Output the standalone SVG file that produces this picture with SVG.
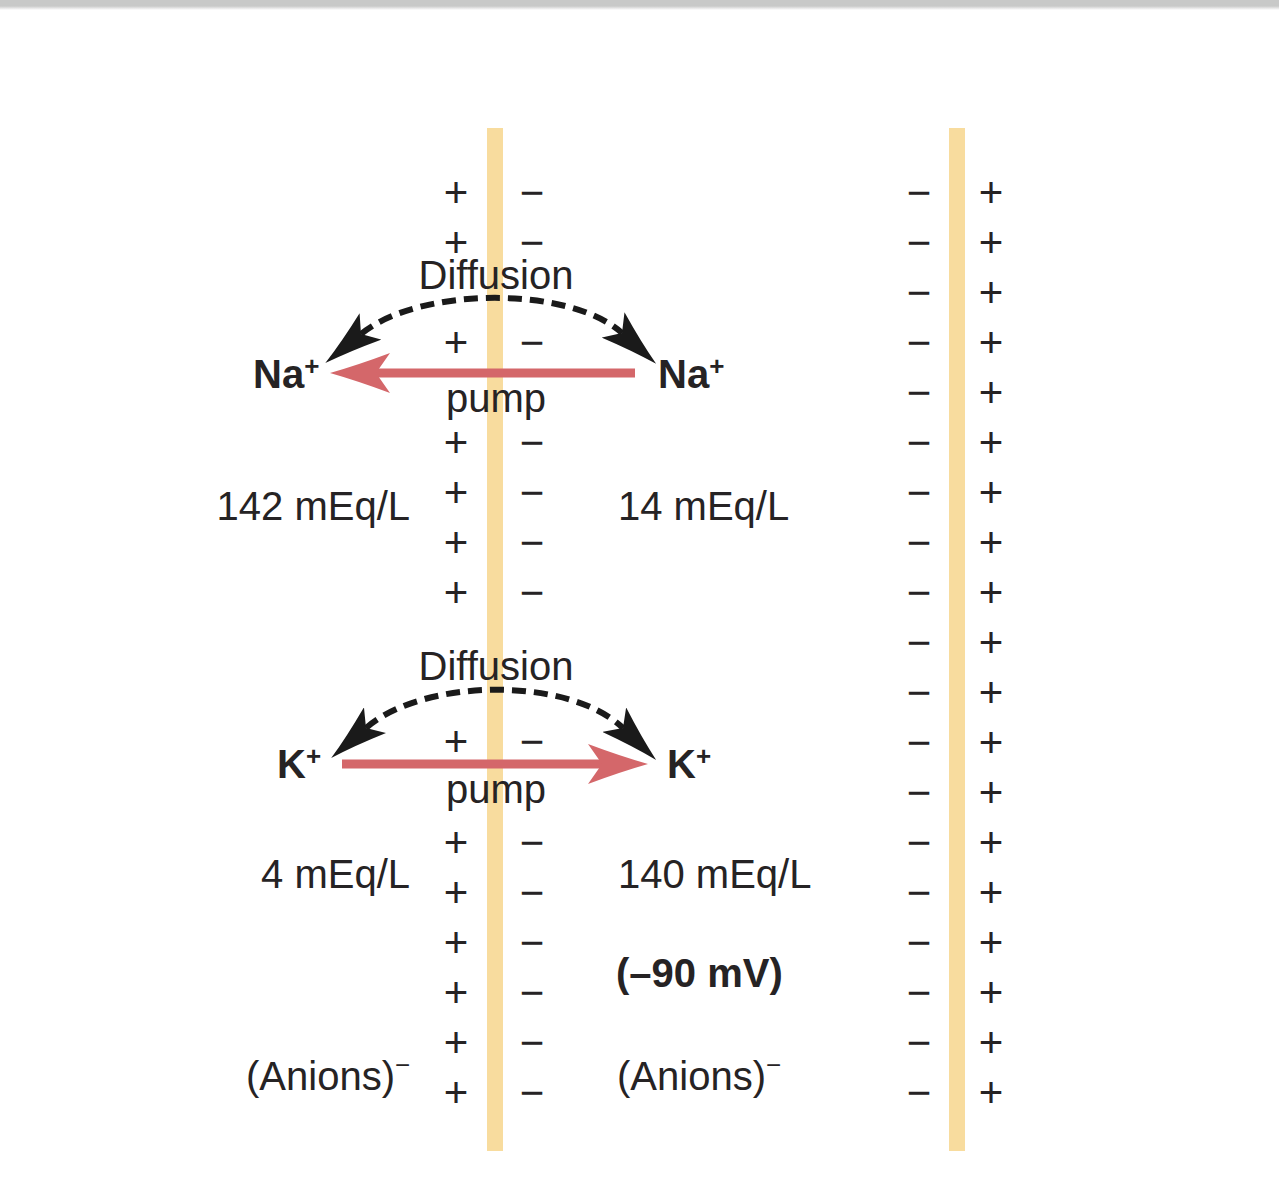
<svg xmlns="http://www.w3.org/2000/svg" width="1279" height="1200" viewBox="0 0 1279 1200">
<style>
  .lbl{font-family:"Liberation Sans",Arial,sans-serif;font-size:40px;fill:#262324}
  .b{font-weight:bold}
  .sup{font-size:26px}
  .pm{font-family:"Liberation Sans",Arial,sans-serif;font-size:42px;fill:#262324;text-anchor:middle}
  .mem{fill:#f8dc9e}
  .diff{fill:none;stroke:#1a1a1a;stroke-width:6;stroke-dasharray:14 8}
  .pump{fill:none;stroke:#d4676a;stroke-width:9}
</style>
<defs>
  <linearGradient id="topfade" x1="0" y1="0" x2="0" y2="1">
    <stop offset="0" stop-color="#c8c9c8"/>
    <stop offset="1" stop-color="#ffffff"/>
  </linearGradient>
  <marker id="blk" markerUnits="userSpaceOnUse" viewBox="-12 -17 58 34" markerWidth="58" markerHeight="34" refX="0" refY="0" orient="auto-start-reverse">
    <path d="M46,0 Q20,-6 -12,-17 L0,0 L-12,17 Q20,6 46,0 Z" fill="#1a1a1a"/>
  </marker>
  <marker id="red" markerUnits="userSpaceOnUse" viewBox="-14 -20 60 40" markerWidth="60" markerHeight="40" refX="0" refY="0" orient="auto">
    <path d="M46,0 Q18,-8 -14,-20 L0,0 L-14,20 Q18,8 46,0 Z" fill="#d4676a"/>
  </marker>
</defs>
<rect x="0" y="0" width="1279" height="1200" fill="#ffffff"/>
<rect x="0" y="0" width="1279" height="6" fill="#c8c9c8"/>
<rect x="0" y="6" width="1279" height="4" fill="url(#topfade)"/>

<g id="membrane-cell">
  <rect class="mem" x="487" y="128" width="16" height="1023"/>
</g>
<g id="membrane-right">
  <rect class="mem" x="949" y="128" width="16" height="1023"/>
</g>

<g id="charges-left">
  <text class="pm" x="456" y="207">+</text><text class="pm" x="532" y="207">−</text>
  <text class="pm" x="456" y="257">+</text><text class="pm" x="532" y="257">−</text>
  <text class="pm" x="456" y="357">+</text><text class="pm" x="532" y="357">−</text>
  <text class="pm" x="456" y="457">+</text><text class="pm" x="532" y="457">−</text>
  <text class="pm" x="456" y="507">+</text><text class="pm" x="532" y="507">−</text>
  <text class="pm" x="456" y="557">+</text><text class="pm" x="532" y="557">−</text>
  <text class="pm" x="456" y="607">+</text><text class="pm" x="532" y="607">−</text>
  <text class="pm" x="456" y="756">+</text><text class="pm" x="532" y="756">−</text>
  <text class="pm" x="456" y="857">+</text><text class="pm" x="532" y="857">−</text>
  <text class="pm" x="456" y="907">+</text><text class="pm" x="532" y="907">−</text>
  <text class="pm" x="456" y="957">+</text><text class="pm" x="532" y="957">−</text>
  <text class="pm" x="456" y="1007">+</text><text class="pm" x="532" y="1007">−</text>
  <text class="pm" x="456" y="1057">+</text><text class="pm" x="532" y="1057">−</text>
  <text class="pm" x="456" y="1107">+</text><text class="pm" x="532" y="1107">−</text>
</g>

<g id="charges-right">
  <text class="pm" x="919" y="207">−</text><text class="pm" x="991" y="207">+</text>
  <text class="pm" x="919" y="257">−</text><text class="pm" x="991" y="257">+</text>
  <text class="pm" x="919" y="307">−</text><text class="pm" x="991" y="307">+</text>
  <text class="pm" x="919" y="357">−</text><text class="pm" x="991" y="357">+</text>
  <text class="pm" x="919" y="407">−</text><text class="pm" x="991" y="407">+</text>
  <text class="pm" x="919" y="457">−</text><text class="pm" x="991" y="457">+</text>
  <text class="pm" x="919" y="507">−</text><text class="pm" x="991" y="507">+</text>
  <text class="pm" x="919" y="557">−</text><text class="pm" x="991" y="557">+</text>
  <text class="pm" x="919" y="607">−</text><text class="pm" x="991" y="607">+</text>
  <text class="pm" x="919" y="657">−</text><text class="pm" x="991" y="657">+</text>
  <text class="pm" x="919" y="707">−</text><text class="pm" x="991" y="707">+</text>
  <text class="pm" x="919" y="757">−</text><text class="pm" x="991" y="757">+</text>
  <text class="pm" x="919" y="807">−</text><text class="pm" x="991" y="807">+</text>
  <text class="pm" x="919" y="857">−</text><text class="pm" x="991" y="857">+</text>
  <text class="pm" x="919" y="907">−</text><text class="pm" x="991" y="907">+</text>
  <text class="pm" x="919" y="957">−</text><text class="pm" x="991" y="957">+</text>
  <text class="pm" x="919" y="1007">−</text><text class="pm" x="991" y="1007">+</text>
  <text class="pm" x="919" y="1057">−</text><text class="pm" x="991" y="1057">+</text>
  <text class="pm" x="919" y="1107">−</text><text class="pm" x="991" y="1107">+</text>
</g>

<g id="connectors">
  <path class="diff" d="M361,334 C420,286 570,286 622,333" marker-start="url(#blk)" marker-end="url(#blk)"/>
  <path class="pump" d="M635,373 L376,373" marker-end="url(#red)"/>
  <path class="diff" d="M366,728 C425,677 570,677 623,728" marker-start="url(#blk)" marker-end="url(#blk)"/>
  <path class="pump" d="M342,764 L602,764" marker-end="url(#red)"/>
</g>

<g id="na-out"><text class="lbl b" x="253" y="388">Na<tspan class="sup" dy="-13">+</tspan></text></g>
<g id="na-in"><text class="lbl b" x="658" y="388">Na<tspan class="sup" dy="-13">+</tspan></text></g>
<g id="k-out"><text class="lbl b" x="277" y="778">K<tspan class="sup" dy="-13">+</tspan></text></g>
<g id="k-in"><text class="lbl b" x="667" y="778">K<tspan class="sup" dy="-13">+</tspan></text></g>

<g id="labels">
  <text class="lbl" x="496" y="289" text-anchor="middle">Diffusion</text>
  <text class="lbl" x="496" y="412" text-anchor="middle">pump</text>
  <text class="lbl" x="496" y="680" text-anchor="middle">Diffusion</text>
  <text class="lbl" x="496" y="803" text-anchor="middle">pump</text>
  <text class="lbl" x="410" y="520" text-anchor="end">142 mEq/L</text>
  <text class="lbl" x="618" y="520">14 mEq/L</text>
  <text class="lbl" x="410" y="888" text-anchor="end">4 mEq/L</text>
  <text class="lbl" x="618" y="888">140 mEq/L</text>
  <text class="lbl b" x="616" y="987">(–90 mV)</text>
  <text class="lbl" x="246" y="1090">(Anions)<tspan class="sup" dy="-16">−</tspan></text>
  <text class="lbl" x="617" y="1090">(Anions)<tspan class="sup" dy="-16">−</tspan></text>
</g>
</svg>
